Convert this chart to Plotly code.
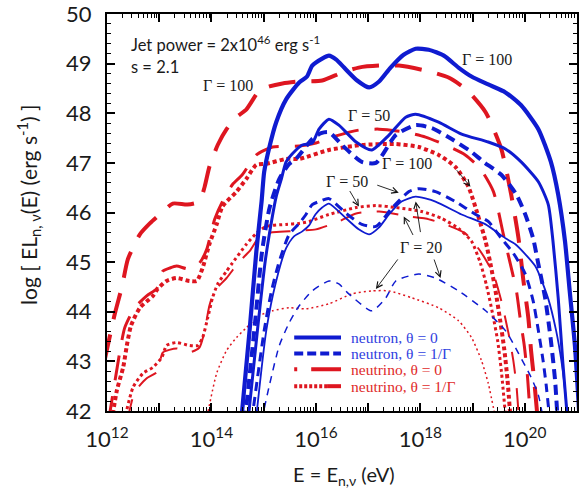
import plotly.graph_objects as go

# ---- spectra: x = log10(E / eV), y = log10(E L(E) / erg s^-1) ----
# neutron, theta = 0
nt0_g100_x = [14.57, 14.73, 14.86, 14.96, 15.01, 15.11, 15.24, 15.43, 15.68, 15.83, 15.93, 16.12, 16.25, 16.39, 16.54, 16.79, 17.02, 17.21, 17.43, 17.68, 17.91, 18.16, 18.45, 18.73, 18.98, 19.30, 19.63, 19.93, 20.26, 20.50, 20.64, 20.77, 20.86, 20.96, 21.04]
nt0_g100_y = [41.8, 43.62, 45.22, 46.22, 46.82, 47.32, 47.82, 48.28, 48.62, 48.74, 48.96, 49.10, 49.16, 49.08, 48.92, 48.66, 48.52, 48.64, 48.92, 49.18, 49.30, 49.28, 49.16, 48.92, 48.74, 48.58, 48.42, 48.16, 47.68, 47.02, 46.36, 45.42, 44.42, 43.32, 42.0]
nt0_g50_x = [14.70, 14.88, 15.03, 15.15, 15.24, 15.34, 15.43, 15.62, 15.74, 15.93, 16.06, 16.25, 16.44, 16.77, 17.07, 17.40, 17.72, 17.91, 18.35, 18.79, 19.30, 19.63, 19.93, 20.26, 20.45, 20.54, 20.64, 20.73, 20.82]
nt0_g50_y = [41.8, 43.62, 45.02, 45.82, 46.32, 46.68, 47.02, 47.26, 47.36, 47.40, 47.68, 47.88, 47.76, 47.42, 47.26, 47.56, 47.92, 47.98, 47.82, 47.58, 47.42, 47.28, 47.02, 46.62, 46.16, 45.42, 44.28, 42.96, 41.8]
nt0_g20_x = [14.85, 15.05, 15.24, 15.43, 15.58, 15.74, 15.87, 15.99, 16.12, 16.25, 16.58, 16.82, 17.02, 17.21, 17.40, 17.64, 17.91, 18.29, 18.79, 19.25, 19.63, 19.82, 20.20, 20.45, 20.60, 20.70, 20.77, 20.82]
nt0_g20_y = [41.8, 43.62, 44.62, 45.28, 45.52, 45.62, 45.74, 45.96, 46.10, 46.18, 45.88, 45.66, 45.56, 45.70, 45.96, 46.22, 46.32, 46.22, 45.96, 45.76, 45.48, 45.36, 44.92, 44.26, 43.62, 43.02, 42.42, 41.8]

# neutron, theta = 1/Gamma
nt1_g100_x = [14.64, 14.82, 14.97, 15.11, 15.30, 15.49, 15.62, 15.93, 16.10, 16.25, 16.50, 16.88, 17.15, 17.53, 17.91, 18.22, 18.60, 18.98, 19.21, 19.55, 19.84, 20.01, 20.16, 20.26, 20.39, 20.50, 20.58, 20.63]
nt1_g100_y = [41.8, 43.62, 45.22, 46.08, 46.68, 46.98, 47.08, 47.48, 47.60, 47.62, 47.36, 47.02, 47.00, 47.56, 47.76, 47.70, 47.48, 47.22, 47.02, 46.76, 46.36, 45.96, 45.48, 44.96, 44.28, 43.42, 42.62, 41.8]
nt1_g50_x = [14.77, 15.01, 15.15, 15.30, 15.49, 15.68, 15.81, 15.93, 16.06, 16.25, 16.58, 16.88, 17.15, 17.45, 17.78, 17.97, 18.29, 18.67, 19.06, 19.30, 19.55, 19.78, 20.01, 20.16, 20.26, 20.35, 20.41, 20.48]
nt1_g50_y = [41.8, 43.62, 44.42, 45.02, 45.56, 45.78, 45.96, 46.16, 46.22, 46.28, 45.98, 45.76, 45.72, 46.08, 46.42, 46.48, 46.42, 46.22, 45.96, 45.82, 45.48, 45.18, 44.76, 44.22, 43.62, 43.02, 42.52, 41.8]
nt1_g20_x = [14.96, 15.11, 15.30, 15.49, 15.68, 15.93, 16.25, 16.44, 16.63, 17.07, 17.34, 17.53, 17.97, 18.29, 18.73, 19.25, 19.63, 19.88, 20.12, 20.26, 20.36]
nt1_g20_y = [41.8, 42.52, 43.32, 43.78, 44.12, 44.42, 44.62, 44.56, 44.36, 44.02, 44.28, 44.62, 44.76, 44.68, 44.42, 44.02, 43.62, 43.16, 42.68, 42.32, 41.8]

# neutrino, theta = 0
vt0_g100_x = [11.95, 12.15, 12.29, 12.40, 12.63, 12.82, 13.01, 13.26, 13.54, 13.77, 13.87, 13.96, 14.12, 14.29, 14.48, 14.67, 14.92, 15.11, 15.36, 15.68, 16.12, 16.50, 16.82, 17.21, 17.59, 18.10, 18.54, 18.88, 19.25, 19.55, 19.74, 19.88, 19.97, 20.07, 20.12, 20.18, 20.25]
vt0_g100_y = [43.0, 43.96, 44.52, 45.06, 45.56, 45.78, 45.96, 46.18, 46.16, 46.22, 46.52, 46.92, 47.36, 47.68, 47.92, 48.08, 48.46, 48.54, 48.60, 48.64, 48.66, 48.82, 48.92, 48.96, 48.96, 48.86, 48.72, 48.48, 48.02, 47.28, 46.36, 45.48, 44.66, 43.86, 43.22, 42.62, 41.8]
vt0_g50_x = [12.03, 12.25, 12.34, 12.53, 12.76, 12.95, 13.01, 13.07, 13.20, 13.33, 13.58, 13.77, 13.91, 14.06, 14.21, 14.40, 14.59, 14.86, 15.17, 15.68, 16.00, 16.31, 16.82, 17.21, 17.72, 18.10, 18.48, 18.86, 19.15, 19.40, 19.59, 19.72, 19.84, 19.91, 19.99, 20.05, 20.11]
vt0_g50_y = [41.8, 43.22, 43.68, 44.08, 44.32, 44.46, 44.62, 44.82, 44.88, 44.92, 44.86, 44.98, 45.26, 45.86, 46.22, 46.56, 46.76, 47.16, 47.32, 47.34, 47.40, 47.52, 47.66, 47.68, 47.62, 47.52, 47.36, 47.16, 46.88, 46.42, 45.56, 44.98, 44.42, 43.88, 43.32, 42.72, 41.8]
vt0_g20_x = [12.39, 12.53, 12.76, 12.95, 13.01, 13.07, 13.33, 13.58, 13.77, 13.87, 13.96, 14.06, 14.29, 14.54, 14.73, 14.88, 15.01, 15.17, 15.49, 15.74, 16.00, 16.44, 16.77, 17.21, 17.78, 18.10, 18.48, 18.86, 19.15, 19.40, 19.55, 19.69, 19.78, 19.84, 19.89]
vt0_g20_y = [41.8, 42.38, 42.66, 42.78, 42.98, 43.18, 43.26, 43.18, 43.28, 43.62, 44.12, 44.42, 44.68, 45.02, 45.22, 45.46, 45.56, 45.60, 45.62, 45.64, 45.66, 45.82, 45.98, 46.02, 45.92, 45.88, 45.76, 45.58, 45.22, 44.76, 44.22, 43.56, 43.02, 42.52, 41.8]

# neutrino, theta = 1/Gamma
vt1_g100_x = [12.09, 12.19, 12.31, 12.38, 12.46, 12.63, 12.88, 12.97, 13.14, 13.33, 13.58, 13.72, 13.83, 13.96, 14.10, 14.21, 14.48, 14.67, 14.86, 15.05, 15.43, 15.68, 16.25, 16.88, 17.53, 17.97, 18.35, 18.67, 18.92, 19.11, 19.25, 19.34, 19.44, 19.53, 19.61, 19.67, 19.73]
vt1_g100_y = [41.8, 42.42, 42.88, 43.32, 43.72, 44.08, 44.32, 44.46, 44.62, 44.68, 44.62, 44.62, 44.88, 45.36, 45.76, 46.12, 46.42, 46.68, 46.96, 46.98, 47.08, 47.08, 47.26, 47.36, 47.38, 47.32, 47.16, 46.92, 46.52, 45.92, 45.42, 44.98, 44.42, 43.82, 43.22, 42.62, 41.8]
vt1_g50_x = [12.33, 12.50, 12.69, 12.88, 13.05, 13.14, 13.33, 13.58, 13.74, 13.83, 13.93, 14.02, 14.12, 14.29, 14.40, 14.67, 14.86, 15.05, 15.43, 15.68, 15.87, 16.25, 16.77, 17.15, 17.53, 18.03, 18.41, 18.73, 18.98, 19.15, 19.27, 19.38, 19.48, 19.55, 19.64]
vt1_g50_y = [41.8, 42.48, 42.76, 42.88, 43.08, 43.32, 43.38, 43.32, 43.32, 43.48, 43.88, 44.28, 44.56, 44.82, 44.98, 45.36, 45.58, 45.72, 45.76, 45.78, 45.82, 45.96, 46.10, 46.14, 46.10, 46.02, 45.88, 45.68, 45.42, 44.98, 44.52, 43.98, 43.42, 42.82, 41.8]
vt1_g20_x = [13.90, 14.10, 14.29, 14.48, 14.67, 14.92, 15.17, 15.49, 15.81, 16.25, 16.69, 17.07, 17.40, 17.84, 18.35, 18.73, 18.98, 19.17, 19.30, 19.45]
vt1_g20_y = [41.8, 42.76, 43.22, 43.48, 43.68, 43.92, 44.02, 44.08, 44.06, 44.16, 44.36, 44.42, 44.42, 44.28, 44.08, 43.82, 43.48, 43.02, 42.56, 41.8]

# axis ticks
x_decades = list(range(12, 22))
x_labels = ["10<sup>%d</sup>" % d if d % 2 == 0 else "" for d in x_decades]
y_ticks = list(range(42, 51))

BLUE = "#0f1bd0"
RED = "#de1620"
BLUE_TXT = "#3040e0"
RED_TXT = "#e02a2a"

# (x, y, colour, width, dash)
curves = [
    (vt0_g100_x, vt0_g100_y, RED, 4.0, "27px,16px"),
    (vt0_g50_x, vt0_g50_y, RED, 3.0, "25px,16px"),
    (vt0_g20_x, vt0_g20_y, RED, 2.0, "22px,15px"),
    (vt1_g100_x, vt1_g100_y, RED, 4.0, "4px,3px"),
    (vt1_g50_x, vt1_g50_y, RED, 3.0, "3px,3px"),
    (vt1_g20_x, vt1_g20_y, RED, 1.5, "2px,3px"),
    (nt1_g20_x, nt1_g20_y, BLUE, 1.5, "7px,6px"),
    (nt1_g50_x, nt1_g50_y, BLUE, 3.0, "9px,6px"),
    (nt1_g100_x, nt1_g100_y, BLUE, 4.0, "10px,6px"),
    (nt0_g20_x, nt0_g20_y, BLUE, 1.8, "solid"),
    (nt0_g50_x, nt0_g50_y, BLUE, 3.0, "solid"),
    (nt0_g100_x, nt0_g100_y, BLUE, 4.2, "solid"),
]

fig = go.Figure()
for xs, ys, col, w, dash in curves:
    fig.add_trace(go.Scatter(
        x=[10 ** v for v in xs], y=ys, mode="lines", showlegend=False,
        line=dict(color=col, width=w, dash=dash, shape="spline", smoothing=0.6),
        hoverinfo="skip"))

axis_common = dict(
    showline=True, linecolor="black", linewidth=2, mirror="allticks",
    ticks="inside", ticklen=8, tickwidth=1.5, tickcolor="black",
    showgrid=False, zeroline=False, ticklabeloverflow="allow",
    tickfont=dict(family="Lato", size=22, color="#1a1a1a"),
)

fig.update_xaxes(
    type="log", range=[12, 21], tickmode="array",
    tickvals=[10.0 ** d for d in x_decades], ticktext=x_labels,
    minor=dict(ticks="inside", ticklen=4, tickwidth=1, tickcolor="black",
               tickmode="array",
               tickvals=[k * 10.0 ** d for d in range(12, 21) for k in range(2, 10)]),
    ticklabelstandoff=8,
    **axis_common)
fig.update_yaxes(
    range=[42, 50], tickmode="array", tickvals=y_ticks,
    minor=dict(ticks="inside", ticklen=4, tickwidth=1, tickcolor="black", dtick=0.2),
    ticklabelstandoff=9,
    **axis_common)


def px2paper(xp, yp):
    return (xp - 107) / 472.0, (411 - yp) / 400.0


def label(txt, xp, yp, size, family="Lato", color="#1a1a1a", xanchor="center", angle=0):
    px, py = px2paper(xp, yp)
    return dict(text=txt, xref="paper", yref="paper", x=px, y=py,
                xanchor=xanchor, yanchor="middle", showarrow=False, textangle=angle,
                font=dict(family=family, size=size, color=color))


annotations = []

# axis titles
annotations.append(label("E = E<sub>n,ν</sub> (eV)", 345, 476, 20))
annotations.append(label("log [ EL<sub>n, ν</sub>(E) (erg s<sup>-1</sup>) ]", 28, 203, 21, angle=-90))

# parameter notes
annotations.append(label("Jet power = 2x10<sup>46</sup> erg s<sup>-1</sup>", 129, 41, 16.5, xanchor="left"))
annotations.append(label("s = 2.1", 129, 64, 16.5, xanchor="left"))

# Lorentz factor labels
for txt, xp, yp in [("Γ = 100", 229, 83), ("Γ = 100", 489, 57), ("Γ = 50", 370, 113),
                    ("Γ = 100", 408, 162), ("Γ = 50", 348, 180), ("Γ = 20", 422, 246)]:
    annotations.append(label(txt, xp, yp, 16, family="Liberation Serif"))

# pointer arrows (tail -> head)
for (tx, ty), (hx, hy) in [((457, 167), (472, 185)), ((377, 183), (400, 191)),
                           ((350, 188), (360, 205)), ((415, 235), (405, 215)),
                           ((422, 232), (417, 200)), ((400, 257), (377, 288)),
                           ((435, 257), (442, 277))]:
    px, py = px2paper(hx, hy)
    annotations.append(dict(text="", xref="paper", yref="paper", x=px, y=py,
                            ax=tx - hx, ay=ty - hy, axref="pixel", ayref="pixel",
                            showarrow=True, arrowhead=5, arrowsize=1.3, arrowwidth=0.9,
                            arrowcolor="#111111"))

# legend
legend_rows = [
    ("neutron, θ = 0", BLUE_TXT, 337),
    ("neutron, θ = 1/Γ", BLUE_TXT, 353),
    ("neutrino, θ = 0", RED_TXT, 369),
    ("neutrino, θ = 1/Γ", RED_TXT, 386),
]
for txt, col, yp in legend_rows:
    annotations.append(label(txt, 350, yp, 15.5, family="Liberation Serif", color=col, xanchor="left"))

shapes = []
x0, _ = px2paper(295, 0)
x1, _ = px2paper(342, 0)
xm, _ = px2paper(328, 0)
_, y_a = px2paper(0, 337)
_, y_b = px2paper(0, 353)
_, y_c = px2paper(0, 369)
_, y_d = px2paper(0, 386)
shapes.append(dict(type="line", xref="paper", yref="paper", x0=x0, x1=x1, y0=y_a, y1=y_a,
                   line=dict(color=BLUE, width=4)))
shapes.append(dict(type="line", xref="paper", yref="paper", x0=x0, x1=x1, y0=y_b, y1=y_b,
                   line=dict(color=BLUE, width=4, dash="9px,4px")))
shapes.append(dict(type="line", xref="paper", yref="paper", x0=x0, x1=x1, y0=y_c, y1=y_c,
                   line=dict(color=RED, width=4, dash="3px,14px,30px,200px")))
shapes.append(dict(type="line", xref="paper", yref="paper", x0=x0, x1=xm, y0=y_d, y1=y_d,
                   line=dict(color=RED, width=4, dash="3px,2px")))
shapes.append(dict(type="line", xref="paper", yref="paper", x0=xm, x1=x1, y0=y_d, y1=y_d,
                   line=dict(color=RED, width=4)))

fig.update_layout(
    width=579, height=497,
    margin=dict(l=107, r=0, t=11, b=86),
    paper_bgcolor="white", plot_bgcolor="white",
    annotations=annotations, shapes=shapes,
    showlegend=False,
)

fig.write_html("out.html")
